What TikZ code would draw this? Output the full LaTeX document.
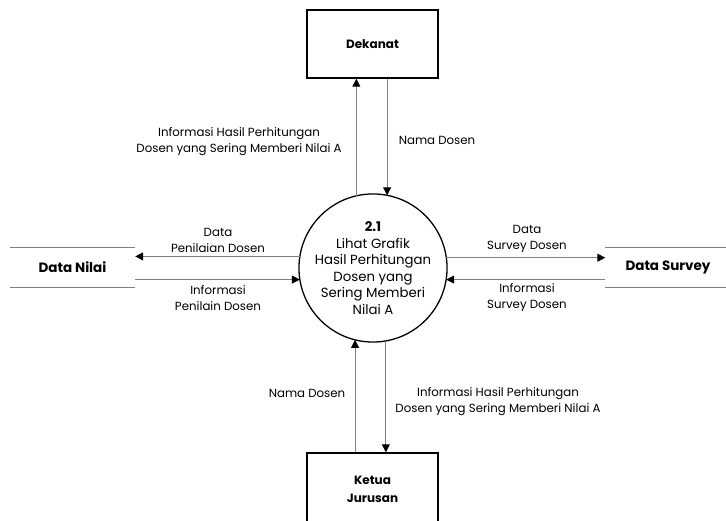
\documentclass[tikz,border=0pt]{standalone}
\usepackage{fontspec}
\setmainfont{Poppins}
\usetikzlibrary{arrows.meta}
\begin{document}
\begin{tikzpicture}[x=1pt,y=1pt,
  flow/.style={draw=black!50,line width=0.9pt,-{Triangle[length=8pt,width=8pt,color=black]}},
  lbl/.style={font=\fontsize{11.8}{16}\selectfont,align=center,inner sep=0pt},
  entity/.style={draw=black,line width=1.4pt,minimum width=131pt,inner sep=0pt,font=\fontsize{12}{18}\selectfont\bfseries,align=center},
  store/.style={minimum width=125pt,minimum height=39pt,inner sep=0pt,font=\fontsize{13.5}{15}\selectfont\bfseries},
  storeline/.style={draw=black!50,line width=0.9pt},
  proc/.style={circle,draw=black,line width=1.3pt,minimum size=142pt,inner sep=0pt,outer sep=0pt,align=center,font=\fontsize{13.3}{16.5}\selectfont}
]
\useasboundingbox (0,0) rectangle (726,520);
\node[proc] (c) at (373,252) {\textbf{2.1}\\Lihat Grafik\\Hasil Perhitungan\\Dosen yang\\Sering Memberi\\Nilai A};
\node[entity,minimum height=68pt] (d) at (372.5,476) {Dekanat};
\node[entity,minimum height=72pt] (k) at (372.5,31) {Ketua\\Jurusan};
\node[store] (dn) at (72.5,252.5) {Data Nilai};
\node[store] (ds) at (668,252.5) {Data Survey};
\draw[storeline] (dn.north west) -- (dn.north east);
\draw[storeline] (dn.south west) -- (dn.south east);
\draw[storeline] (ds.north west) -- (ds.north east);
\draw[storeline] (ds.south west) -- (ds.south east);
% top
\draw[flow] (c.103.85) -- (c.103.85 |- d.south);
\draw[flow] (c.79.45 |- d.south) -- (c.79.45);
% bottom
\draw[flow] (c.256.15 |- k.north) -- (c.256.15);
\draw[flow] (c.280.55) -- (c.280.55 |- k.north);
% left
\draw[flow] (c.171.9) -- (c.171.9 -| dn.east);
\draw[flow] (c.189.73 -| dn.east) -- (c.189.73);
% right
\draw[flow] (c.8.1) -- (c.8.1 -| ds.west);
\draw[flow] (c.-9.73 -| ds.west) -- (c.-9.73);
% labels
\node[lbl] (l1) at (239,378.5) {Informasi Hasil Perhitungan\\Dosen yang Sering Memberi Nilai A};
\node[lbl] (l2) at (437,380) {Nama Dosen};
\node[lbl] (l3) at (307,127) {Nama Dosen};
\node[lbl] (l4) at (498,118) {Informasi Hasil Perhitungan\\Dosen yang Sering Memberi Nilai A};
\node[lbl] (l5) at (218,280) {Data\\Penilaian Dosen};
\node[lbl] (l6) at (218,221.5) {Informasi\\Penilain Dosen};
\node[lbl] (l7) at (527,281) {Data\\Survey Dosen};
\node[lbl] (l8) at (527,222) {Informasi\\Survey Dosen};
\end{tikzpicture}
\end{document}
